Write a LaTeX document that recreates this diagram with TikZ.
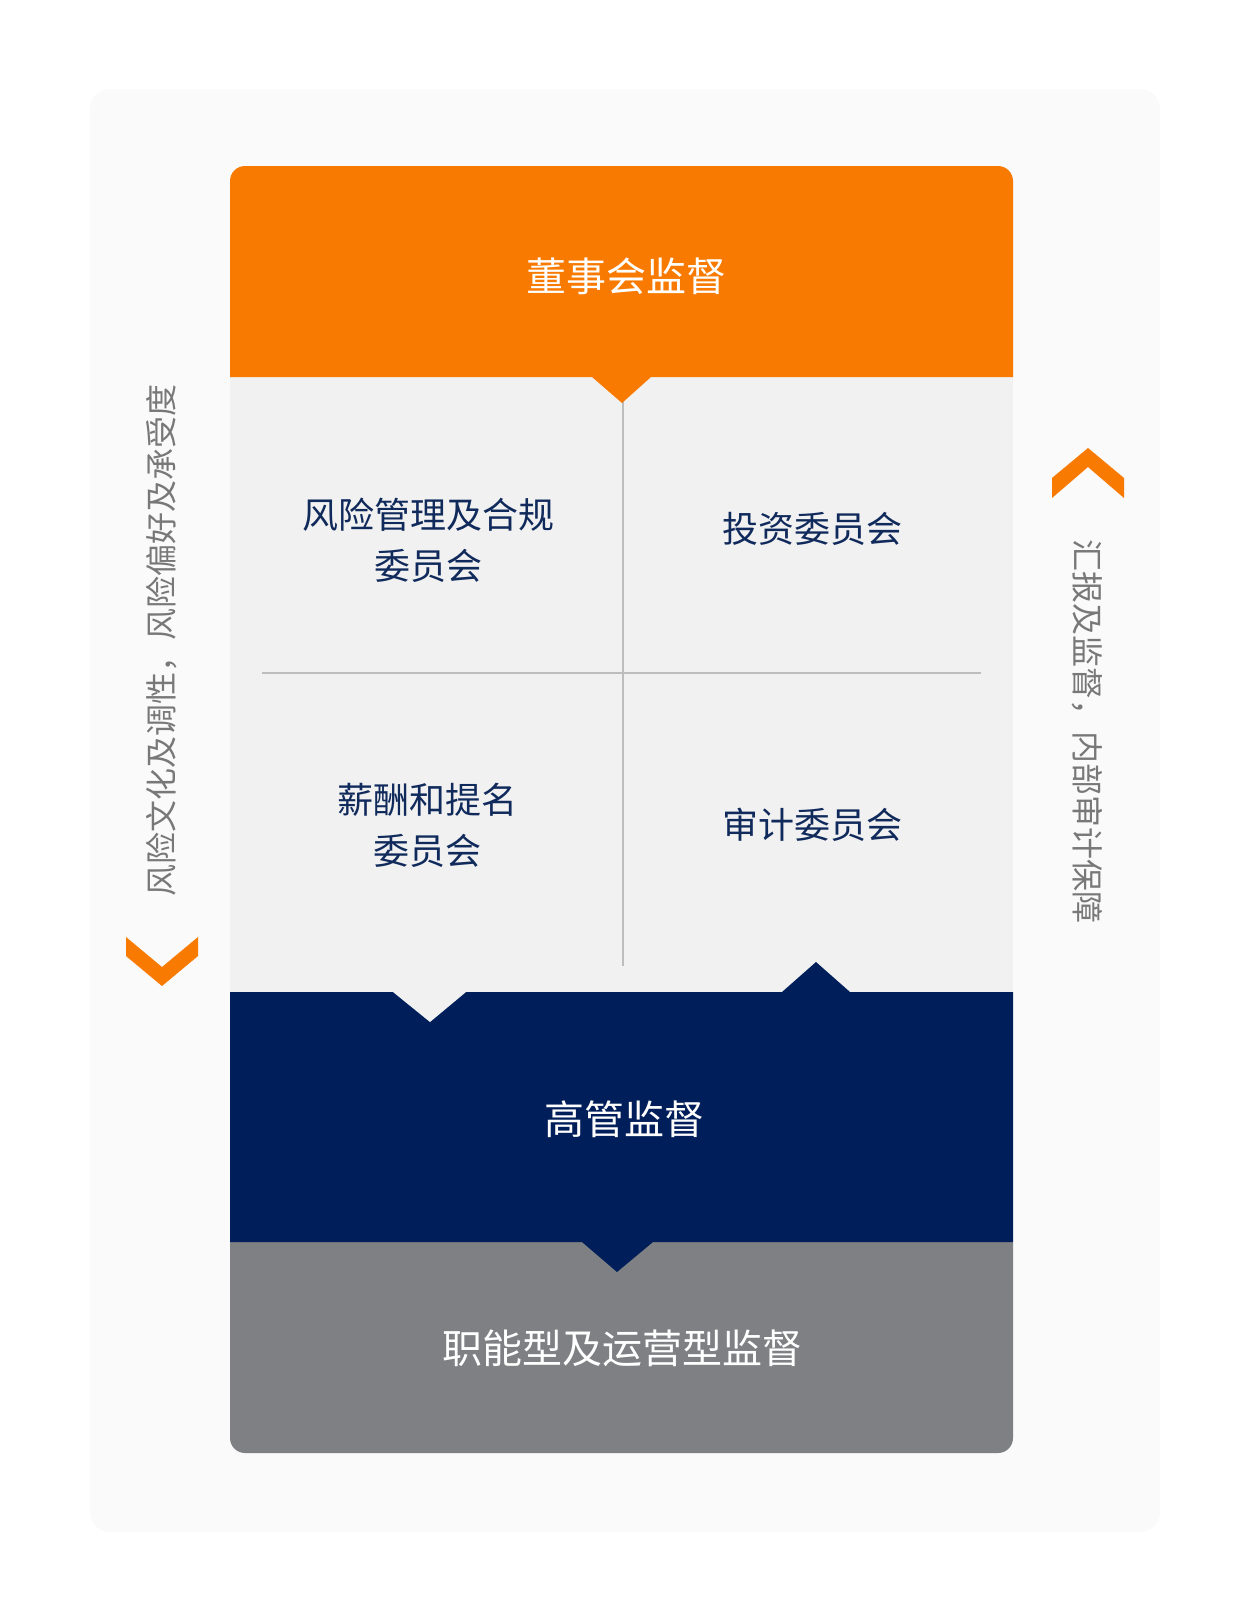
\documentclass[tikz,border=0pt]{standalone}
\usepackage{fontspec}
\setmainfont{Noto Sans CJK SC}
\usetikzlibrary{positioning}

\definecolor{boardorange}{HTML}{F97A00}
\definecolor{seniornavy}{HTML}{001F5A}
\definecolor{funcgray}{HTML}{7F8084}
\definecolor{panelgray}{HTML}{F1F1F1}
\definecolor{outergray}{HTML}{FAFAFA}
\definecolor{gridgray}{HTML}{BDBDBD}
\definecolor{textnavy}{HTML}{102A5C}
\definecolor{sidegray}{HTML}{787878}

\begin{document}
\begin{tikzpicture}[
    x=1pt, y=-1pt,
    title/.style={
        text=white,
        font=\fontsize{40pt}{48pt}\selectfont,
        inner sep=0pt
    },
    committee/.style={
        text=textnavy,
        align=center,
        font=\fontsize{36pt}{51pt}\selectfont,
        inner sep=0pt
    },
    side/.style={
        text=sidegray,
        font=\fontsize{32pt}{36pt}\selectfont,
        inner sep=0pt
    },
    chevron/.style={fill=boardorange}
]
\useasboundingbox (0,0) rectangle (1250,1622);

% 外框背景
\fill[outergray, rounded corners=20pt] (90,89) rectangle (1160,1532);

% 委员会区域及分隔线
\fill[panelgray] (230,377) rectangle (1013,992);
\draw[gridgray, line width=2pt] (262,673) -- (981,673);
\draw[gridgray, line width=2pt] (623,390) -- (623,966);

% 职能型及运营型监督
\fill[funcgray] (230,1242) [rounded corners=15pt] -- (230,1453) -- (1013,1453) [sharp corners] -- (1013,1242) -- cycle;

% 高管监督（上下两个尖角）
\fill[seniornavy] (230,992) -- (782,992) -- (816,962) -- (850,992) -- (1013,992)
    -- (1013,1242) -- (653,1242) -- (617,1272) -- (582,1242) -- (230,1242) -- cycle;
\fill[panelgray] (393,992) -- (430,1022) -- (466,992) -- cycle;

% 董事会监督
\fill[boardorange] (230,377) [rounded corners=15pt] -- (230,166) -- (1013,166) [sharp corners] -- (1013,377)
    -- (651,377) -- (622,403) -- (592,377) -- cycle;

% 两侧箭头
\fill[chevron] (126,937) -- (162,967) -- (198,937) -- (198,956) -- (162,986) -- (126,956) -- cycle;
\fill[chevron] (1052,478) -- (1088,448) -- (1124,478) -- (1124,498) -- (1088,467) -- (1052,498) -- cycle;

% 文字
\node[title] (board) at (626,276) {董事会监督};
\node[committee] (risk) at (428,540) {风险管理及合规\\委员会};
\node[committee] (invest) at (812,529) {投资委员会};
\node[committee] (pay) at (427,825) {薪酬和提名\\委员会};
\node[committee] (audit) at (812,825) {审计委员会};
\node[title] (senior) at (624,1119) {高管监督};
\node[title] (func) at (622,1348) {职能型及运营型监督};

\node[side, rotate=90] (culture) at (162,640) {风险文化及调性，风险偏好及承受度};
\node[side, rotate=-90] (report) at (1087,731) {汇报及监督，内部审计保障};

\end{tikzpicture}
\end{document}
